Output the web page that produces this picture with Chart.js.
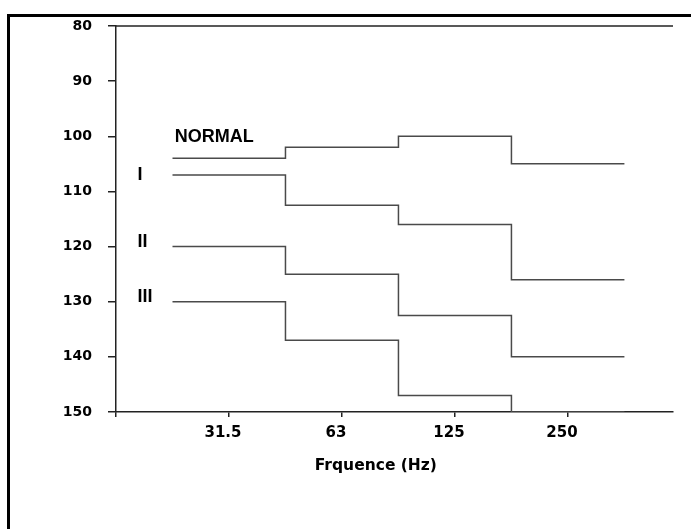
<!DOCTYPE html>
<html>
<head>
<meta charset="utf-8">
<script src="https://cdn.jsdelivr.net/npm/chart.js@4.4.1/dist/chart.umd.min.js"></script>
<style>
  html, body { margin: 0; padding: 0; background: #fff; overflow: hidden; }
  #frame { position: absolute; left: 7px; top: 14px; width: 700px; height: 600px;
           border-left: 3px solid #000; border-top: 3px solid #000; }
  #wrap { position: absolute; left: 0; top: 0; width: 691px; height: 529px; }
</style>
</head>
<body>
<div id="frame"></div>
<div id="wrap"><canvas id="chart" width="691" height="529"></canvas></div>
<script>
// frequency bands (Hz) and thresholds (dB)
const categories = ['31.5', '63', '125', '250'];
const normal = [104, 102, 100, 105];
const grade1 = [107, 112.5, 116, 126];
const grade2 = [120, 125, 132.5, 140];
const grade3 = [130, 137, 147, 150];
const yTicks = [80, 90, 100, 110, 120, 130, 140, 150];
const xTitle = 'Frquence (Hz)';

// each band is a flat step centred on its tick
function steps(values) {
    const pts = values.map((v, i) => ({ x: i + 0.5, y: v }));
    pts.push({ x: values.length + 0.5, y: values[values.length - 1] });
    return pts;
}

const lineStyle = {
    borderColor: '#4a4a4a',
    borderWidth: 1.5,
    pointRadius: 0,
    stepped: 'before',
    fill: false
};

// text labels next to the curves, placed in data units
const curveLabels = [
    { text: 'NORMAL', x: 0.52, y: 100.1 },
    { text: 'I', x: 0.19, y: 107 },
    { text: 'II', x: 0.19, y: 119.1 },
    { text: 'III', x: 0.19, y: 129.1 }
];

const textPlugin = {
    id: 'textPlugin',
    afterDraw(chart) {
        const { ctx, scales } = chart;
        ctx.save();
        ctx.fillStyle = '#000';
        ctx.textBaseline = 'middle';
        ctx.textAlign = 'left';
        ctx.font = 'bold 18px "Liberation Sans", Arial, sans-serif';
        curveLabels.forEach(l => {
            ctx.fillText(l.text, scales.x.getPixelForValue(l.x), scales.y.getPixelForValue(l.y));
        });
        // axis title
        ctx.textAlign = 'center';
        ctx.font = 'bold 15.5px "DejaVu Sans", sans-serif';
        ctx.fillText(xTitle, scales.x.getPixelForValue(2.3), 466);
        // top frame line of the plot
        const a = chart.chartArea;
        ctx.strokeStyle = '#222';
        ctx.lineWidth = 1.5;
        ctx.beginPath();
        ctx.moveTo(a.left, a.top);
        ctx.lineTo(a.right, a.top);
        ctx.stroke();
        ctx.restore();
    }
};

new Chart(document.getElementById('chart').getContext('2d'), {
    type: 'line',
    data: {
        datasets: [
            { label: 'NORMAL', data: steps(normal), ...lineStyle },
            { label: 'I', data: steps(grade1), ...lineStyle },
            { label: 'II', data: steps(grade2), ...lineStyle },
            { label: 'III', data: steps(grade3), ...lineStyle }
        ]
    },
    options: {
        responsive: false,
        animation: false,
        layout: { padding: { left: 0, top: 26, right: 18, bottom: 0 } },
        plugins: { legend: { display: false }, tooltip: { enabled: false } },
        scales: {
            x: {
                type: 'linear',
                min: 0,
                max: 4.93,
                afterBuildTicks: axis => {
                    axis.ticks = [0, 1, 2, 3, 4].map(v => ({ value: v }));
                },
                afterFit: axis => { axis.height = 117; },
                ticks: {
                    callback: v => (v >= 1 ? categories[v - 1] : ''),
                    font: { family: '"DejaVu Sans", sans-serif', size: 15, weight: 'bold' },
                    color: '#000',
                    padding: 7,
                    labelOffset: -6,
                    maxRotation: 0,
                    autoSkip: false
                },
                grid: { drawOnChartArea: false, tickLength: 5, color: '#222', lineWidth: 1.5 },
                border: { display: true, color: '#222', width: 1.5 }
            },
            y: {
                type: 'linear',
                reverse: true,
                min: yTicks[0],
                max: yTicks[yTicks.length - 1],
                afterBuildTicks: axis => {
                    axis.ticks = yTicks.map(v => ({ value: v }));
                },
                afterFit: axis => { axis.width = 116; },
                ticks: {
                    font: { family: '"DejaVu Sans", sans-serif', size: 14, weight: 'bold' },
                    color: '#000',
                    padding: 16
                },
                grid: { drawOnChartArea: false, tickLength: 8, color: '#222', lineWidth: 1.5 },
                border: { display: true, color: '#222', width: 1.5 }
            }
        }
    },
    plugins: [textPlugin]
});
</script>
</body>
</html>
